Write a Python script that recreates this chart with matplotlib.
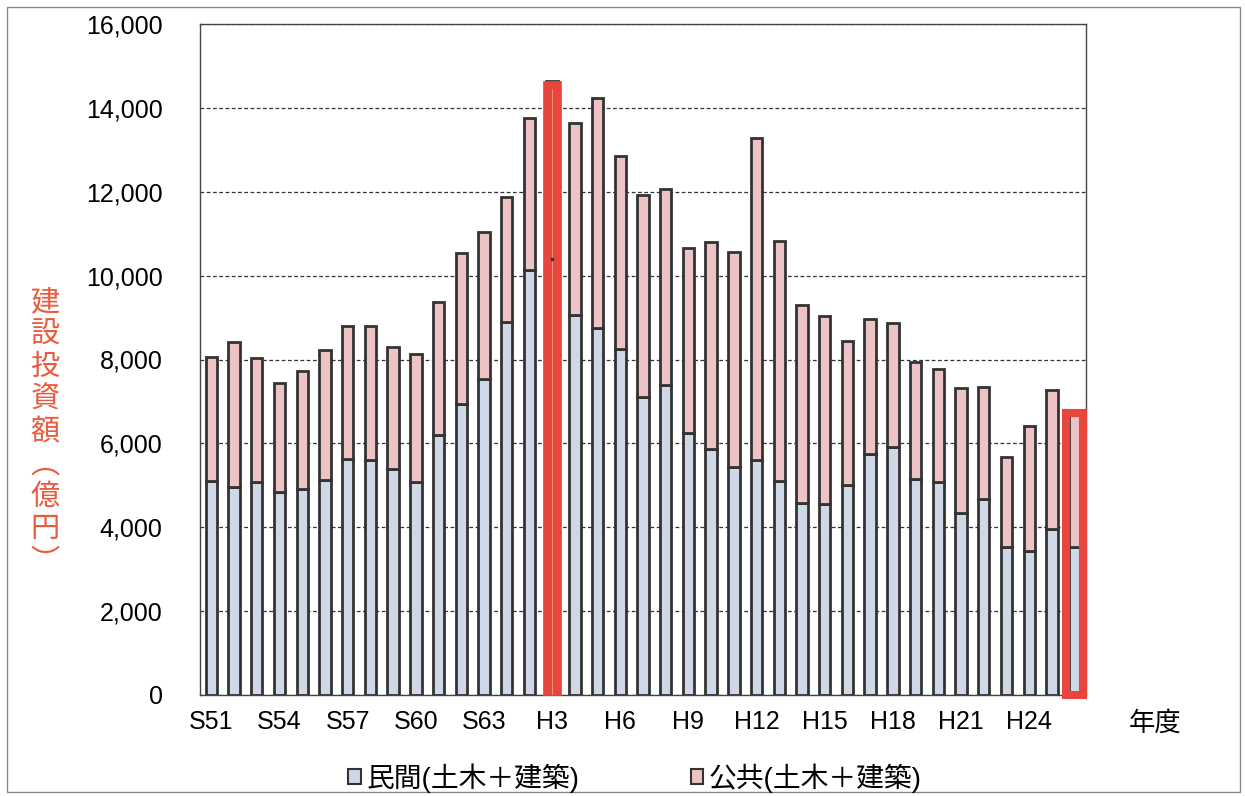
import numpy as np
import matplotlib
matplotlib.use("Agg")
import matplotlib.pyplot as plt
from matplotlib.patches import Rectangle, Patch

plt.rcParams['font.family'] = ['Liberation Sans', 'Noto Sans CJK JP', 'DejaVu Sans']

# fiscal years S51 (1976) .. H26 (2014)
years = ['S%d' % y for y in range(51, 64)] + ['H%d' % y for y in range(1, 27)]
# private construction (civil + building), 100 million yen
private = [5110, 4950, 5070, 4830, 4910, 5130, 5620, 5610, 5390, 5070, 6210, 6930, 7540,
           8890, 10130, 10400, 9050, 8760, 8250, 7100, 7390, 6240, 5855, 5425, 5600, 5110,
           4590, 4560, 5010, 5740, 5920, 5145, 5085, 4330, 4680, 3520, 3430, 3970, 3520]
# total (private + public)
total = [8050, 8410, 8030, 7430, 7730, 8230, 8800, 8810, 8300, 8120, 9380, 10550, 11030,
         11870, 13750, 14650, 13630, 14230, 12860, 11920, 12060, 10670, 10810, 10560, 13270, 10820,
         9290, 9030, 8450, 8960, 8870, 7940, 7765, 7320, 7345, 5670, 6405, 7280, 6720]
tick_labels = years[::3]
highlight_peak = 'H3'
highlight_last = 'H26'

private = np.array(private)
public = np.array(total) - private
x = np.arange(len(years))

c_priv = '#cfd8e6'
c_pub = '#eec3c5'
c_edge = '#333333'
c_red = '#e8453c'

fig = plt.figure(figsize=(12.45, 7.96), dpi=100)
ax = fig.add_axes([200/1245, 1-695/796, 886/1245, 671/796])

ax.bar(x, private, width=0.5, color=c_priv, edgecolor=c_edge, linewidth=2, zorder=3)
ax.bar(x, public, bottom=private, width=0.5, color=c_pub, edgecolor=c_edge, linewidth=2, zorder=3)

# peak year highlight (red filled)
i = years.index(highlight_peak)
ax.bar(x[i], total[i], width=0.8, color=c_red, edgecolor=c_red, linewidth=0.5, zorder=4, clip_on=False)
ax.vlines(x[i], 0, total[i] - 200, color='#f4a89c', linewidth=0.5, zorder=5)
ax.plot(x[i], private[i], marker='s', ms=2, color=c_edge, zorder=6)

# latest year highlight (red outline)
j = years.index(highlight_last)
ax.bar(x[j], total[j], width=0.75, fill=False, edgecolor=c_red, linewidth=5.8, zorder=5, clip_on=False)

ax.set_xlim(-0.5, len(years) - 0.5)
ax.set_ylim(0, 16000)
ax.set_yticks(np.arange(0, 16001, 2000))
ax.set_yticklabels(['{:,}'.format(v) for v in range(0, 16001, 2000)], fontsize=18)
ax.set_xticks(x[::3])
ax.set_xticklabels(tick_labels, fontsize=18)
ax.tick_params(axis='y', length=0, pad=27)
ax.tick_params(axis='x', length=0, pad=11)
ax.yaxis.grid(True, linestyle=(0, (3, 2)), color='#333333', linewidth=0.9)
ax.set_axisbelow(True)
for s in ax.spines.values():
    s.set_color('#444444')
    s.set_linewidth(1)

fig.text(45/1245, 1-432/796, '建\n設\n投\n資\n額\n︵\n億\n円\n︶', color='#ea5a3c', fontsize=21,
         ha='center', va='center', linespacing=1.2)
fig.text(1155/1245, 1-723/796, '年度', fontsize=19, ha='center', va='center')

handles = [Patch(facecolor=c_priv, edgecolor=c_edge, linewidth=1.5),
           Patch(facecolor=c_pub, edgecolor=c_edge, linewidth=1.5)]
fig.legend(handles, ['民間(土木＋建築)', '公共(土木＋建築)'], loc='center',
           bbox_to_anchor=(635/1245, 1-778/796), ncol=2, frameon=False, fontsize=20,
           handlelength=0.45, handleheight=0.45, handletextpad=0.2, columnspacing=4.0)

fig.patches.append(Rectangle((7/1245, 4/796), 1233/1245, 785/796, transform=fig.transFigure,
                             fill=False, edgecolor='#888888', linewidth=1))

fig.savefig('out.png', dpi=100)
